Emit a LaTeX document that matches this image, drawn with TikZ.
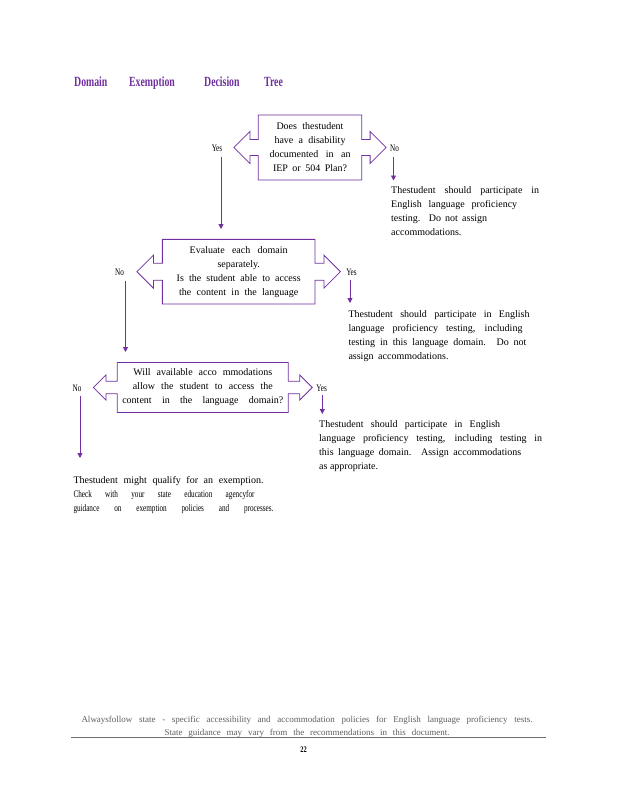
\documentclass[tikz,border=0pt]{standalone}
\usepackage{fontspec}
\usepackage{graphicx}
\setmainfont{Liberation Serif}
\usetikzlibrary{shapes.arrows,arrows.meta}
\definecolor{purp}{HTML}{7030A0}
\definecolor{foot}{HTML}{5F5F5F}
\definecolor{footrule}{HTML}{707070}
\newcommand\jl[2]{\makebox[#1pt][s]{#2}}
\newcommand\cnd[1]{\scalebox{0.72}[1]{#1}}
\begin{document}
\begin{tikzpicture}[x=1pt,y=-1pt,
  decbox/.style={arrow box, draw=purp, line width=0.8pt, inner sep=0pt, align=center,
    font=\fontsize{10}{14}\selectfont, arrow box tip angle=90},
  conn/.style={draw=purp, line width=0.8pt, -{Triangle[length=5pt,width=5pt]}},
  lbl/.style={inner sep=0pt, font=\fontsize{10}{12}\selectfont},
  body/.style={inner sep=0pt, anchor=north west, align=left, font=\fontsize{10}{14}\selectfont},
  ttl/.style={inner sep=0pt, anchor=base west, text=purp, font=\fontsize{14}{16}\selectfont\bfseries}
]
\useasboundingbox (0,0) rectangle (618,800);
\fill[white] (0,0) rectangle (618,800);

% title
\node[ttl] (tA) at (74,86) {\scalebox{0.7}[1]{Domain}};
\node[ttl] (tB) at (129,86) {\scalebox{0.7}[1]{Exemption}};
\node[ttl] (tC) at (204,86) {\scalebox{0.7}[1]{Decision}};
\node[ttl] (tD) at (264,86) {\scalebox{0.7}[1]{Tree}};

% decision boxes
\node[decbox, minimum width=103.4pt, minimum height=65pt,
  arrow box arrows={east:24pt,west:24pt}, arrow box shaft width=16pt, arrow box head extend=8pt]
  (q1) at (310,147.5)
  {\jl{67}{Does thestudent}\\ \jl{71}{have a disability}\\ \jl{81}{documented in an}\\ \jl{74}{IEP or 504 Plan?}};

\node[decbox, minimum width=152.7pt, minimum height=64.7pt,
  arrow box arrows={east:25pt,west:25pt}, arrow box shaft width=17pt, arrow box head extend=8pt]
  (q2) at (238.7,271.7)
  {\jl{98}{Evaluate each domain}\\ separately.\\ \jl{124}{Is the student able to access}\\ \jl{119}{the content in the language}};

\node[decbox, minimum width=171pt, minimum height=50pt,
  arrow box arrows={east:23.5pt,west:23.5pt}, arrow box shaft width=12.6pt, arrow box head extend=6.2pt]
  (q3) at (202.8,387.5)
  {\jl{139}{Will available acco mmodations}\\ \jl{140}{allow the student to access the}\\ \jl{161}{content in the language domain?}};

% yes / no labels
\node[lbl] (yes1) at (217,148) {\cnd{Yes}};
\node[lbl] (no1) at (394.5,148) {\cnd{No}};
\node[lbl] (no2) at (119.5,272) {\cnd{No}};
\node[lbl] (yes2) at (351.5,272) {\cnd{Yes}};
\node[lbl] (no3) at (77,388.3) {\cnd{No}};
\node[lbl] (yes3) at (321.7,388.3) {\cnd{Yes}};

% outcome texts
\node[body] (r1) at (391,185.9)
  {\jl{148}{Thestudent should participate in}\\ \jl{126}{English language proficiency}\\ \jl{96}{testing. Do not assign}\\ accommodations.};
\node[body] (r2) at (348.3,310.5)
  {\jl{181}{Thestudent should participate in English}\\ \jl{174}{language proficiency testing, including}\\ \jl{178}{testing in this language domain. Do not}\\ \jl{100}{assign accommodations.}};
\node[body] (r3) at (319,420.5)
  {\jl{181}{Thestudent should participate in English}\\ \jl{223}{language proficiency testing, including testing in}\\ \jl{202}{this language domain. Assign accommodations}\\ as appropriate.};
\node[body] (r4) at (73.3,476.5)
  {\jl{190}{Thestudent might qualify for an exemption.}\\
   \jl{181}{\cnd{Check} \cnd{with} \cnd{your} \cnd{state} \cnd{education} \cnd{agencyfor}}\\
   \jl{200}{\cnd{guidance} \cnd{on} \cnd{exemption} \cnd{policies} \cnd{and} \cnd{processes.}}};

% connectors
\coordinate (e1) at (221,229);
\coordinate (e2) at (393.5,180.5);
\coordinate (e3) at (125.5,352);
\coordinate (e4) at (350,303);
\coordinate (e5) at (80,458);
\coordinate (e6) at (322.3,414);
\draw[conn] ([yshift=-5pt]yes1.south -| e1) -- (e1);
\draw[conn] ([yshift=-5pt]no1.south -| e2) -- (e2);
\draw[conn] ([yshift=-5pt]no2.south -| e3) -- (e3);
\draw[conn] ([yshift=-4pt]yes2.south -| e4) -- (e4);
\draw[conn] ([yshift=-4pt]no3.south -| e5) -- (e5);
\draw[conn] ([yshift=-3pt]yes3.south -| e6) -- (e6);

% footer
\node[inner sep=0pt, anchor=north, align=center, text=foot, font=\fontsize{9}{12.7}\selectfont] (ft) at (307,716.1)
  {\jl{451}{Alwaysfollow state - specific accessibility and accommodation policies for English language proficiency tests.}\\
   \jl{285}{State guidance may vary from the recommendations in this document.}};
\draw[footrule, line width=0.8pt] (71,737.5) -- (546,737.5);
\node[inner sep=0pt, font=\fontsize{8.5}{10}\selectfont\bfseries] (pg) at (303.5,750) {\scalebox{0.75}[1]{22}};
\end{tikzpicture}
\end{document}
